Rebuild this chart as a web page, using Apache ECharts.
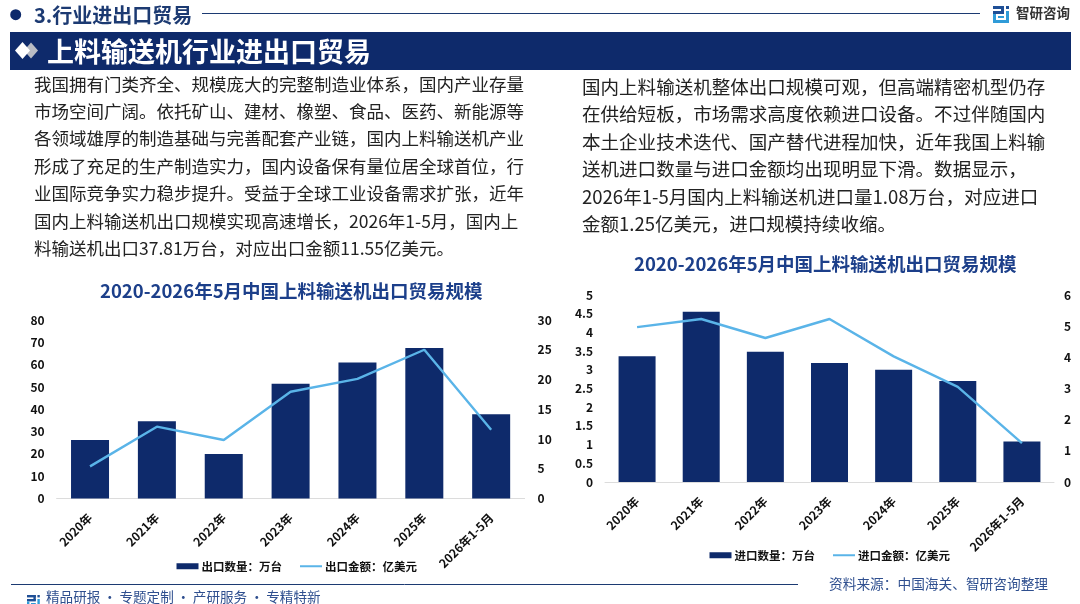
<!DOCTYPE html>
<html><head><meta charset="utf-8">
<style>html,body{margin:0;padding:0;background:#fff}#c{width:1080px;height:604px}</style>
<script src="https://cdn.jsdelivr.net/npm/echarts@6/dist/echarts.min.js"></script>
</head><body><div id="c"></div>
<script>
const C='\uFF0C', K='\uFF1A';
const categories = ['2020年','2021年','2022年','2023年','2024年','2025年','2026年1-5月'];
const exportQty = [26.2,34.6,19.9,51.4,61,67.5,37.81];
const exportAmt = [5.4,12.07,9.83,17.95,20.1,25,11.55];
const importQty = [3.36,4.55,3.48,3.18,3.0,2.7,1.08];
const importAmt = [4.97,5.23,4.62,5.23,4.03,3.05,1.25];
const seriesNames = ['出口数量'+K+'万台','出口金额'+K+'亿美元','进口数量'+K+'万台','进口金额'+K+'亿美元'];
const leftLines = ['我国拥有门类齐全、规模庞大的完整制造业体系'+C+'国内产业存量','市场空间广阔。依托矿山、建材、橡塑、食品、医药、新能源等','各领域雄厚的制造基础与完善配套产业链'+C+'国内上料输送机产业','形成了充足的生产制造实力'+C+'国内设备保有量位居全球首位'+C+'行','业国际竞争实力稳步提升。受益于全球工业设备需求扩张'+C+'近年','国内上料输送机出口规模实现高速增长'+C+'2026年1-5月'+C+'国内上','料输送机出口37.81万台'+C+'对应出口金额11.55亿美元。'];
const rightLines = ['国内上料输送机整体出口规模可观'+C+'但高端精密机型仍存','在供给短板'+C+'市场需求高度依赖进口设备。不过伴随国内','本土企业技术迭代、国产替代进程加快'+C+'近年我国上料输','送机进口数量与进口金额均出现明显下滑。数据显示'+C,'2026年1-5月国内上料输送机进口量1.08万台'+C+'对应进口','金额1.25亿美元'+C+'进口规模持续收缩。'];
const NAVY='#0e2a6b', BLUE='#5ab4e8', LOGO='#1f4f96', LOGO2='#2f9bd8';
const FF='"Noto Sans CJK SC","Noto Sans",sans-serif';
const txt=(x,y,t,o)=>({type:'text',x,y,silent:true,style:Object.assign({text:t,x:0,y:0,fontFamily:FF,fill:'#222',fontSize:17.5,verticalAlign:'middle'},o||{})});
const line=(x1,y1,x2,y2,c,w)=>({type:'line',shape:{x1,y1,x2,y2},silent:true,style:{stroke:c,lineWidth:w}});
const logo=(x,y,s)=>({type:'group',x,y,scaleX:s,scaleY:s,silent:true,children:[
 ['r',0,0,11,3,LOGO],['r',8,0,3,7,LOGO],['r',0,5,11,3,LOGO],['r',13,0,3,3,LOGO],
 ['r',0,8,3,9,LOGO2],['r',0,14,16,3,LOGO2],['r',13,5,3,10,LOGO2],['r',5,10,6,2,LOGO2]
].map(a=>({type:'rect',shape:{x:a[1],y:a[2],width:a[3],height:a[4]},style:{fill:a[5]}}))});
const graphic=[
 {type:'circle',shape:{cx:15.7,cy:14.7,r:5.5},style:{fill:NAVY}},
 txt(34,15,'3.行业进出口贸易',{fontSize:20,fontWeight:'bold',fill:'#1c3a72'}),
 line(202,13.5,980,13.5,'#1c3a72',1),
 {type:'rect',shape:{x:10,y:32,width:1061,height:38},style:{fill:NAVY}},
 {type:'polygon',shape:{points:[[31,42.5],[38,50.5],[31,58.5],[24,50.5]]},style:{fill:'#b9bcc4'}},
 {type:'polygon',shape:{points:[[22.5,42],[30,50.5],[22.5,59],[15,50.5]]},style:{fill:'#fff'}},
 txt(47,51.5,'上料输送机行业进出口贸易',{fontSize:27,fontWeight:'bold',fill:'#fff'}),
 logo(993,6,1),
 txt(1016,13,'智研咨询',{fontSize:13.5,fontWeight:'bold',fill:'#333'}),
 txt(100,291,'2020-2026年5月中国上料输送机出口贸易规模',{fontSize:18.5,fontWeight:'bold',fill:'#1c3f8a'}),
 txt(634,264,'2020-2026年5月中国上料输送机出口贸易规模',{fontSize:18.5,fontWeight:'bold',fill:'#1c3f8a'}),
 line(11,584.5,798,584.5,'#1c3a72',1),
 logo(27,595,0.8),
 txt(46,597,'精品研报\u2009·\u2009专题定制\u2009·\u2009产研服务\u2009·\u2009专精特新',{fontSize:13.6,fill:'#2f4f8f'}),
 txt(829,584,'资料来源'+K+'中国海关、智研咨询整理',{fontSize:13.7,fill:'#2f4f8f'})
];
leftLines.forEach((t,i)=>graphic.push(txt(34,84+i*27.4,t)));
rightLines.forEach((t,i)=>graphic.push(txt(582,86.7+i*27.5,t,{fontSize:18.55})));
const axisText={color:'#111',fontSize:12,fontWeight:'bold',fontFamily:FF};
const xAxis=i=>({type:'category',gridIndex:i,data:categories,axisTick:{show:false},axisLine:{show:true,lineStyle:{color:'#dcdcdc',width:1}},splitLine:{show:false},axisLabel:Object.assign({rotate:45,interval:0,margin:17},axisText)});
const yAxis=(i,max,interval,pos,margin)=>({type:'value',gridIndex:i,min:0,max,interval,position:pos,axisTick:{show:false},axisLine:{show:false},splitLine:{show:false},axisLabel:Object.assign({margin},axisText)});
const legendBase={itemWidth:22,itemHeight:6,itemGap:17,textStyle:Object.assign({},axisText,{fontSize:11.5,padding:[0,0,0,-2]})};
const lineIcon={itemStyle:{opacity:0}};
const chart=echarts.init(document.getElementById('c'),null,{renderer:'canvas'});
chart.setOption({
 animation:false,
 graphic,
 grid:[{left:56.6,right:1080-524.6,top:320,height:178.5},{left:605,right:1080-1054,top:295,height:187}],
 xAxis:[xAxis(0),xAxis(1)],
 yAxis:[yAxis(0,80,10,'left',12),yAxis(0,30,5,'right',13),yAxis(1,5,0.5,'left',12),yAxis(1,6,1,'right',10)],
 legend:[
  Object.assign({left:171.5,top:555.5,data:[{name:seriesNames[0],icon:'rect'},Object.assign({name:seriesNames[1]},lineIcon)]},legendBase),
  Object.assign({left:704.5,top:544.5,data:[{name:seriesNames[2],icon:'rect'},Object.assign({name:seriesNames[3]},lineIcon)]},legendBase)
 ],
 series:[
  {name:seriesNames[0],type:'bar',xAxisIndex:0,yAxisIndex:0,data:exportQty,barWidth:38,itemStyle:{color:NAVY}},
  {name:seriesNames[1],type:'line',xAxisIndex:0,yAxisIndex:1,data:exportAmt,symbol:'none',lineStyle:{color:BLUE,width:2.4},itemStyle:{color:BLUE}},
  {name:seriesNames[2],type:'bar',xAxisIndex:1,yAxisIndex:2,data:importQty,barWidth:37,itemStyle:{color:NAVY}},
  {name:seriesNames[3],type:'line',xAxisIndex:1,yAxisIndex:3,data:importAmt,symbol:'none',lineStyle:{color:BLUE,width:2.4},itemStyle:{color:BLUE}}
 ]
});
</script></body></html>
